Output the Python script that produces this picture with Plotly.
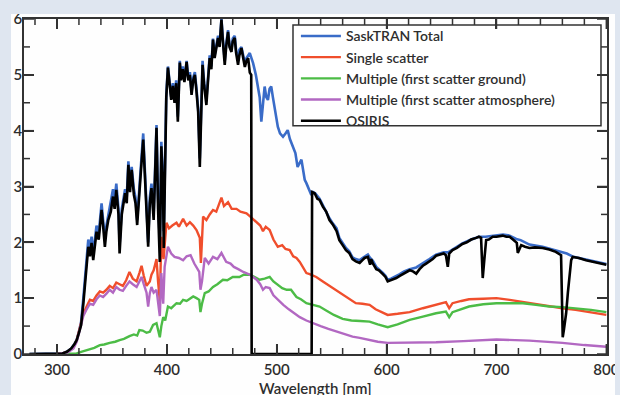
import plotly.graph_objects as go

# ---- data ----
wl_total = [275, 300, 305, 309, 313, 316, 318, 320, 322, 324, 326, 328.5, 330, 331.5, 333, 336, 338, 340.6, 342, 343.6,
            345, 346.7, 349, 351, 352.5, 354, 356, 357, 359, 362, 363.5, 365, 366.5, 368, 370, 371.5, 373, 375, 376.5,
            378.5, 380, 381.5, 383, 384.5, 386, 388, 389.5, 390.6, 392, 393.6, 395, 396.5, 397.2, 398.5, 399.5, 401,
            402.5, 404, 405.5, 407, 408.5, 410, 411.8, 413, 414.5, 416, 418, 419.5, 421, 422.5, 424, 425.5, 427, 428.5,
            430, 431, 432.5, 434, 436, 437.5, 439, 440.5, 442, 443.5, 445, 446.6, 448, 449.7, 451, 452.7, 454, 455.7,
            457, 458.8, 460, 461.8, 463, 464.8, 466, 467.9, 469.5, 471, 472.5, 474, 475.5, 477, 478.5, 481, 483, 484.5,
            486, 487.5, 489, 490.5, 492, 493.5, 495, 496.5, 498, 501, 503, 505.7, 508, 510, 512, 514.8, 517, 519, 520.5,
            522.5, 524, 525.5, 527, 528.5, 530, 531.5, 533, 535, 539, 542, 545, 548, 551, 554.5, 557, 560, 563, 566,
            569, 572, 575.5, 578, 580, 583, 585, 587.5, 590.6, 593, 596.6, 599, 601, 604, 608.8, 612, 616, 621, 627,
            633, 639, 645, 652, 656, 660, 669, 677, 684, 690, 696, 700, 706, 712, 718, 722, 730, 742, 750, 758, 764,
            770, 781, 790, 800]
sasktran_total = [0, 0, 0.01, 0.04, 0.1, 0.18, 0.26, 0.4, 0.58, 1.0, 1.5, 2.05, 1.85, 2.1, 1.8, 2.3, 2.15, 2.7, 2.4, 2.05,
                  2.3, 2.5, 2.7, 2.95, 2.75, 3.05, 2.6, 1.95, 2.6, 2.95, 2.8, 3.45, 3.0, 3.35, 2.95, 2.8, 2.4, 3.1, 3.4,
                  3.95, 3.3, 2.7, 2.0, 2.8, 3.05, 2.5, 3.7, 4.1, 2.8, 2.0, 3.8, 3.1, 2.2, 3.9, 4.65, 5.15,
                  4.85, 4.6, 4.85, 4.55, 4.9, 4.25, 5.25, 4.95, 5.15, 4.9, 5.25, 4.95, 5.05, 4.7, 4.95, 5.05, 4.75, 4.4,
                  3.5, 4.3, 5.25, 4.85, 4.55, 4.95, 5.35, 5.15, 5.65, 5.35, 5.55, 5.7, 5.55, 6.0, 5.65, 5.25, 5.55, 5.8,
                  5.55, 5.45, 5.65, 5.7, 5.45, 5.25, 5.45, 5.5, 5.35, 5.2, 5.3, 5.35, 5.39, 5.3, 5.21, 5.0, 4.79, 4.6,
                  4.16, 4.5, 4.79, 4.6, 4.55, 4.75, 4.79, 4.6, 4.43, 4.07, 3.95, 3.89, 3.95, 4.01, 3.85, 3.71, 3.6, 3.35, 3.4,
                  3.48, 3.3, 3.12, 3.06, 2.99, 2.9, 2.85, 2.9, 2.88, 2.78, 2.66, 2.57, 2.43, 2.34, 2.25, 2.08, 1.98, 1.9, 1.84,
                  1.73, 1.7, 1.68, 1.72, 1.75, 1.78, 1.72, 1.67, 1.56, 1.52, 1.45, 1.4, 1.33, 1.35, 1.39, 1.43, 1.48, 1.52, 1.55,
                  1.62, 1.7, 1.78, 1.82, 1.82, 1.87, 1.98, 2.05, 2.1, 2.1, 2.12, 2.12, 2.14, 2.12, 2.06, 2.04, 1.96, 1.92, 1.88, 1.84, 1.8,
                  1.74, 1.69, 1.66, 1.61]

wl_single = [300, 305, 310, 315, 318, 321, 324, 327, 330, 333, 336, 339, 342, 345, 348, 351, 354, 357, 360, 363, 366, 369,
             372.5, 375, 377, 379, 381.5, 384.5, 386, 388, 390.6, 392, 393.6, 395, 397, 399.7, 402, 405, 408.8, 411,
             414.8, 418, 421, 424, 427, 430, 431, 433, 436, 439, 442, 445, 447.5, 449.7, 452, 455.7, 459, 463.4, 467,
             472.5, 476, 478.5, 482, 485, 487.5, 490, 493.6, 497, 501, 505, 508, 511.8, 515, 518, 521, 524, 527, 530,
             536, 542, 548, 554, 560, 566, 572, 578, 584.5, 590, 596, 601, 610, 621, 633, 645, 654, 657, 660, 668, 675,
             688, 700, 712, 724, 736, 748, 760, 772, 786, 800]
single_scatter = [0, 0.01, 0.04, 0.12, 0.25, 0.48, 0.72, 0.85, 0.97, 0.95, 1.05, 1.12, 1.1, 1.15, 1.22, 1.18, 1.28, 1.25,
                  1.22, 1.32, 1.47, 1.35, 1.3, 1.45, 1.58, 1.4, 1.22, 1.3, 1.42, 1.5, 1.7, 1.3, 0.95, 2.1, 1.7, 2.35,
                  2.25, 2.3, 2.35, 2.28, 2.42, 2.3, 2.36, 2.3, 2.22, 2.08, 1.63, 2.46, 2.4, 2.5, 2.58, 2.55, 2.68, 2.8,
                  2.65, 2.72, 2.6, 2.6, 2.55, 2.52, 2.46, 2.42, 2.35, 2.3, 2.2, 2.28, 2.22, 2.05, 1.92, 1.95, 1.88, 1.86,
                  1.75, 1.72, 1.65, 1.55, 1.45, 1.43, 1.38, 1.3, 1.22, 1.15, 1.06, 0.98, 0.91, 0.9, 0.88, 0.8, 0.75, 0.7,
                  0.72, 0.75, 0.82, 0.88, 0.93, 0.82, 0.91, 0.95, 0.98, 0.99, 1.0, 0.97, 0.93, 0.89, 0.85, 0.82, 0.79,
                  0.75, 0.7]

wl_ground = [300, 312, 318, 322, 326, 330, 334, 339, 343, 348, 353, 357, 361, 366, 370, 373, 375, 378, 381.5, 384.5,
             387.5, 390.6, 392, 393.6, 395, 396.7, 398.5, 401, 404, 408.8, 412, 414.8, 418, 424, 427, 429.5, 430.6,
             432, 434.5, 438, 442, 446, 451, 455, 460, 466, 470, 475.7, 480, 484.5, 489, 493.6, 497, 501, 505, 509,
             513, 518, 522, 527, 533, 539, 545, 552, 560, 568, 576, 584.5, 592, 601, 610, 621, 633, 645, 654, 657,
             660, 668, 675, 688, 700, 712, 724, 736, 748, 760, 772, 786, 800]
multiple_ground = [0, 0, 0.01, 0.04, 0.06, 0.08, 0.11, 0.16, 0.17, 0.2, 0.22, 0.25, 0.27, 0.32, 0.35, 0.33, 0.43, 0.42,
                   0.38, 0.4, 0.52, 0.55, 0.42, 0.3, 0.5, 0.66, 0.6, 0.85, 0.82, 0.91, 0.9, 0.97, 0.95, 1.03, 1.0, 0.97,
                   0.75, 0.9, 1.09, 1.12, 1.2, 1.25, 1.33, 1.32, 1.38, 1.38, 1.42, 1.42, 1.38, 1.33, 1.35, 1.38, 1.3,
                   1.24, 1.18, 1.15, 1.15, 1.02, 0.98, 0.91, 0.88, 0.85, 0.78, 0.7, 0.63, 0.6, 0.59, 0.58, 0.53, 0.48,
                   0.53, 0.61, 0.67, 0.73, 0.76, 0.66, 0.75, 0.8, 0.85, 0.89, 0.91, 0.91, 0.91, 0.88, 0.85, 0.84, 0.82,
                   0.79, 0.75]

wl_atmos = [300, 305, 310, 315, 318, 321, 324, 327, 330, 333, 336, 339, 342, 345, 348, 351, 354, 357, 360, 363, 366, 369,
            372.5, 375, 377, 379, 381.5, 383, 384.5, 386, 388, 390.6, 392, 393.6, 395, 396.7, 398, 401, 404, 407, 411,
            414.8, 418, 421.6, 425, 429.5, 430.6, 432, 434.5, 438, 442, 446, 449.7, 454, 458, 461, 465, 469.6, 475.7,
            481.8, 485, 487.5, 490, 493.6, 497, 501, 506, 511, 516, 521, 527, 533, 540, 547, 554.5, 562, 569, 575.5,
            584, 592, 601, 620, 645, 670, 700, 730, 760, 780, 800]
multiple_atmos = [0, 0.01, 0.03, 0.1, 0.22, 0.45, 0.68, 0.8, 0.9, 0.88, 0.98, 1.05, 1.02, 1.08, 1.15, 1.1, 1.2, 1.15,
                  1.13, 1.22, 1.3, 1.25, 1.2, 1.3, 1.38, 1.25, 1.1, 0.85, 1.09, 1.2, 1.1, 1.15, 0.9, 0.68, 1.45, 0.9,
                  1.56, 1.92, 1.8, 1.74, 1.72, 1.68, 1.75, 1.77, 1.62, 1.47, 1.15, 1.3, 1.72, 1.62, 1.74, 1.7, 1.81,
                  1.65, 1.62, 1.56, 1.52, 1.47, 1.42, 1.33, 1.25, 1.15, 1.2, 1.18, 1.05, 0.97, 0.88, 0.8, 0.73, 0.66,
                  0.6, 0.55, 0.5, 0.45, 0.4, 0.35, 0.31, 0.29, 0.25, 0.22, 0.2, 0.2, 0.21, 0.23, 0.26, 0.24, 0.2, 0.16,
                  0.13]

wl_osiris = [275, 290, 300, 305, 309, 313, 316, 318, 320, 322, 324, 326, 328.5, 330, 331.5, 333, 336, 338, 340.6, 342,
             343.6, 345, 346.7, 349, 351, 352.5, 354, 356, 357, 359, 362, 363.5, 365, 366.5, 368, 370, 371.5, 373, 375,
             376.5, 378.5, 380, 381.5, 383, 384.5, 386, 388, 389.5, 390.6, 392, 393.6, 395, 396.5, 397.2, 398.5, 399.5,
             401, 402.5, 404, 405.5, 407, 408.5, 410, 411.8, 413, 414.5, 416, 418, 419.5, 421, 422.5, 424, 425.5, 427,
             428.5, 430, 431, 432.5, 434, 436, 437.5, 439, 440.5, 442, 443.5, 445, 446.6, 448, 449.7, 451, 452.7, 454,
             455.7, 457, 458.8, 460, 461.8, 463, 464.8, 466, 467.9, 469.5, 471, 472.5, 474, 475.5, 476.8, 477.2, 531.8,
             532.2, 534.5, 537, 539, 542, 545, 548, 551, 554.5, 557, 560, 563, 566, 569, 572, 575.5, 578, 580, 583, 585,
             586, 587.5, 590.6, 593, 596.6, 599, 601, 604, 608.8, 612, 616, 621, 624, 627, 630, 633, 636, 639, 642, 645,
             649, 652, 654, 655.7, 657, 660, 664, 669, 673, 677, 681.5, 684, 686, 687.5, 689, 690.6, 693, 696.6, 700,
             705.7, 709, 712, 715, 718.5, 719.4, 721, 722.5, 726, 730, 735, 742, 748, 754, 758.8, 760.3, 761.5, 763.4,
             765, 766.4, 768, 769.4, 775, 781.5, 786, 790.6, 795, 800]
osiris = [0, 0, 0, 0.01, 0.04, 0.1, 0.18, 0.25, 0.38, 0.52, 0.9, 1.35, 1.92, 1.75, 1.99, 1.68, 2.19, 2.05, 2.58, 2.3,
          1.92, 2.2, 2.4, 2.55, 2.82, 2.6, 2.94, 2.5, 1.8, 2.5, 2.88, 2.7, 3.39, 2.9, 3.3, 2.85, 2.7, 2.31, 3.0,
          3.3, 3.84, 3.2, 2.6, 1.92, 2.7, 2.97, 2.4, 3.6, 4.05, 2.6, 1.65, 3.72, 3.0, 1.9, 3.8, 4.6,
          5.13, 4.8, 4.55, 4.8, 4.5, 4.85, 4.16, 5.22, 4.9, 5.1, 4.87, 5.23, 4.9, 5.0, 4.64, 4.9, 5.0, 4.7,
          4.34, 3.35, 4.2, 5.18, 4.8, 4.46, 4.9, 5.3, 5.1, 5.63, 5.3, 5.5, 5.66, 5.5, 5.99, 5.6, 5.18, 5.5,
          5.77, 5.5, 5.41, 5.6, 5.66, 5.4, 5.18, 5.35, 5.48, 5.3, 5.14, 5.25, 5.3, 5.04, 5.0, 0.0, 0.0,
          2.9, 2.88, 2.78, 2.76, 2.64, 2.55, 2.4, 2.32, 2.2, 2.04, 1.95, 1.86, 1.81, 1.7, 1.66, 1.63, 1.68, 1.72, 1.74, 1.6,
          1.7, 1.62, 1.52, 1.5, 1.43, 1.38, 1.3, 1.32, 1.36, 1.4, 1.45, 1.5, 1.48, 1.44, 1.52, 1.58, 1.62, 1.66, 1.7, 1.76,
          1.78, 1.8, 1.77, 1.56, 1.8, 1.86, 1.9, 1.97, 2.0, 2.05, 2.08, 2.1, 2.08, 1.36, 1.7, 2.04, 2.05, 2.1, 2.1,
          2.12, 2.1, 2.1, 2.05, 1.99, 1.81, 1.9, 1.95, 1.92, 1.9, 1.91, 1.9, 1.87, 1.83, 1.77, 0.3, 0.45, 0.73,
          1.1, 1.45, 1.68, 1.74, 1.72, 1.68, 1.66, 1.65, 1.62, 1.6]

x_ticks = [300, 400, 500, 600, 700, 800]
x_minor_ticks = [280, 320, 340, 360, 380, 420, 440, 460, 480, 520, 540, 560, 580,
                 620, 640, 660, 680, 720, 740, 760, 780]
y_ticks = [0, 1, 2, 3, 4, 5, 6]
y_minor_ticks = [0.5, 1.5, 2.5, 3.5, 4.5, 5.5]
x_range = [270, 800.6]
y_range = [0, 6]
x_title = "Wavelength [nm]"

series = [
    ("SaskTRAN Total", wl_total, sasktran_total, "#3a6cc8", 2.6),
    ("Single scatter", wl_single, single_scatter, "#f04e2c", 2.4),
    ("Multiple (first scatter ground)", wl_ground, multiple_ground, "#4cbc46", 2.4),
    ("Multiple (first scatter atmosphere)", wl_atmos, multiple_atmos, "#b268c2", 2.4),
    ("OSIRIS", wl_osiris, osiris, "#000000", 2.6),
]

fig = go.Figure()
for name, xs, ys, col, w in series:
    fig.add_trace(go.Scatter(x=xs, y=ys, mode="lines", name=name,
                             line=dict(color=col, width=w)))

FONT = "Lato, Open Sans, sans-serif"
AX = "#333333"
BLUE_FRAME = "#dfe6f0"
font_main = dict(family=FONT, size=15, color="#2e2e2e", weight=600)

fig.update_layout(
    xaxis=dict(range=x_range, tickmode="array", tickvals=x_ticks, ticks="inside", ticklen=10,
               tickwidth=1.6, tickcolor=AX, showline=True, linecolor=AX, linewidth=1.6, mirror="allticks",
               showgrid=False, zeroline=False, tickfont=font_main, automargin=False, ticklabelstandoff=1),
    yaxis=dict(range=y_range, tickmode="array", tickvals=y_ticks, ticks="inside", ticklen=10,
               tickwidth=1.6, tickcolor=AX, showline=True, linecolor=AX, linewidth=1.6, mirror="allticks",
               showgrid=False, zeroline=False, tickfont=font_main, automargin=False, ticklabelstandoff=-3),
)

# tick marks on all four sides (inside), placed at the tick values through the axes
tick_line = dict(color=AX, width=1.5)
for vals, ln in [(x_ticks, 10), (x_minor_ticks, 6)]:
    for v in vals:
        fig.add_shape(type="line", xref="x", yref="paper", ysizemode="pixel", yanchor=0,
                      x0=v, x1=v, y0=0, y1=ln, line=tick_line, layer="above")
        fig.add_shape(type="line", xref="x", yref="paper", ysizemode="pixel", yanchor=1,
                      x0=v, x1=v, y0=0, y1=-ln, line=tick_line, layer="above")
for vals, ln in [(y_ticks, 10), (y_minor_ticks, 6)]:
    for v in vals:
        fig.add_shape(type="line", xref="paper", yref="y", xsizemode="pixel", xanchor=0,
                      x0=0, x1=ln, y0=v, y1=v, line=tick_line, layer="above")
        fig.add_shape(type="line", xref="paper", yref="y", xsizemode="pixel", xanchor=1,
                      x0=0, x1=-ln, y0=v, y1=v, line=tick_line, layer="above")

fig.add_annotation(text=x_title, xref="paper", yref="paper", x=0.5, y=-0.1,
                   xanchor="center", yanchor="middle", showarrow=False, font=font_main)

# legend frame
fig.add_shape(type="rect", xref="paper", yref="paper", x0=0.4614, x1=0.9897, y0=0.681, y1=0.982,
              line=dict(color=AX, width=1.5), fillcolor="white", layer="below")
# light blue page frame around the white figure panel
for x0, x1, y0, y1 in [(-0.05, -0.0223, -0.2, 1.1), (1.0137, 1.05, -0.2, 1.1), (-0.05, 1.05, 1.0149, 1.1)]:
    fig.add_shape(type="rect", xref="paper", yref="paper", x0=x0, x1=x1, y0=y0, y1=y1,
                  line=dict(width=0), fillcolor=BLUE_FRAME, layer="above")

fig.update_layout(
    width=620, height=395,
    margin=dict(l=24, r=13, t=19, b=41),
    paper_bgcolor="#fefefe", plot_bgcolor="#fefefe",
    showlegend=True,
    legend=dict(x=0.4664, y=0.996, xanchor="left", yanchor="top", bgcolor="rgba(0,0,0,0)",
                borderwidth=0, font=dict(family=FONT, size=14, color="#2e2e2e", weight=600),
                itemwidth=40, tracegroupgap=0),
)

fig.write_html("out.html", config={"displayModeBar": False},
               post_script="document.body.style.margin='0';document.body.style.background='#dfe6f0';")
